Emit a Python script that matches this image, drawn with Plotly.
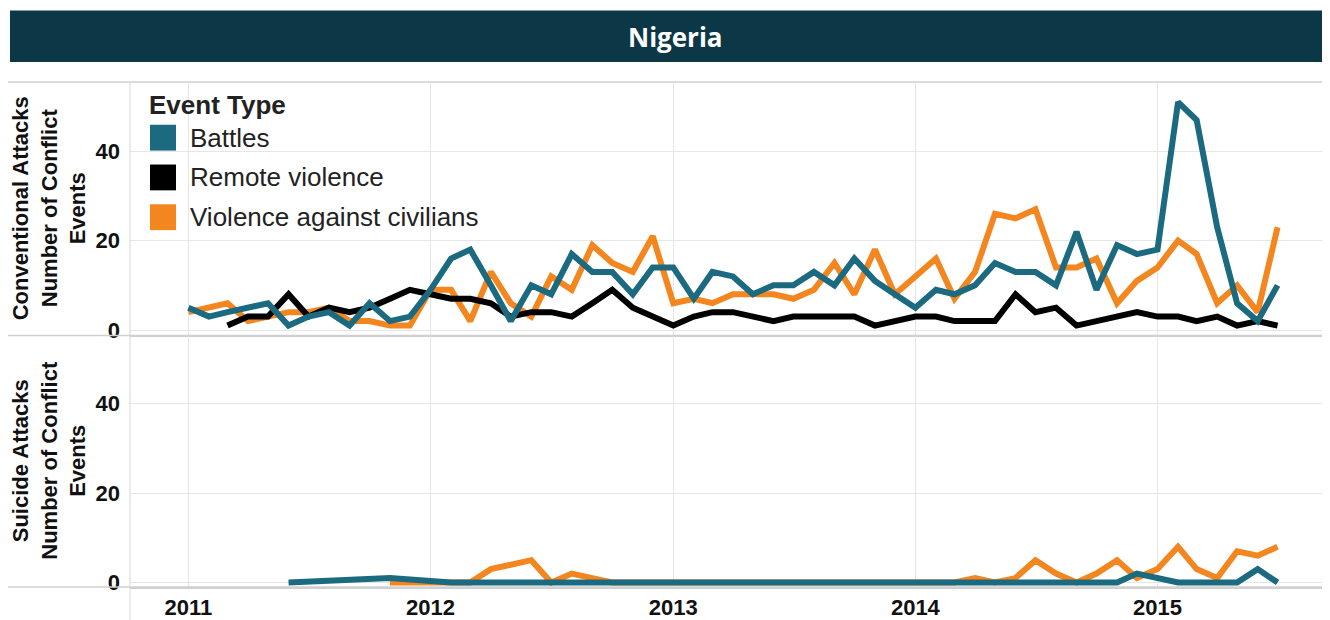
import pandas as pd
import plotly.graph_objects as go
from plotly.subplots import make_subplots

# Data -----------------------------------------------------------------------
months = pd.date_range("2011-01-01", periods=55, freq="MS")

event_types = ["Battles", "Remote violence", "Violence against civilians"]
colors = {"Battles": "#1b6a80", "Remote violence": "#000000",
          "Violence against civilians": "#f4861f"}

# conventional attacks, monthly counts (Jan 2011 - Jul 2015)
conv_battles = [5, 3, 4, 5, 6, 1, 3, 4, 1, 6,
                2, 3, 9, 16, 18, 10, 2, 10, 8, 17,
                13, 13, 8, 14, 14, 7, 13, 12, 8, 10,
                10, 13, 10, 16, 11, 8, 5, 9, 8, 10,
                15, 13, 13, 10, 22, 9, 19, 17, 18, 51,
                47, 23, 6, 2, 10]
conv_remote = [None, None, 1, 3, 3, 8, 3, 5, 4, 5,
               7, 9, 8, 7, 7, 6, 3, 4, 4, 3,
               6, 9, 5, 3, 1, 3, 4, 4, 3, 2,
               3, 3, 3, 3, 1, 2, 3, 3, 2, 2,
               2, 8, 4, 5, 1, 2, 3, 4, 3, 3,
               2, 3, 1, 2, 1]
conv_civilians = [4, 5, 6, 2, 3, 4, 4, 5, 2, 2,
                  1, 1, 9, 9, 2, 13, 6, 3, 12, 9,
                  19, 15, 13, 21, 6, 7, 6, 8, 8, 8,
                  7, 9, 15, 8, 18, 8, 12, 16, 7, 13,
                  26, 25, 27, 14, 14, 16, 6, 11, 14, 20,
                  17, 6, 10, 4, 23]

# suicide attacks
sui_battles = [None, None, None, None, None, 0, None, None, None, None,
               1, None, None, 0, 0, 0, 0, 0, 0, 0,
               0, 0, 0, 0, 0, 0, 0, 0, 0, 0,
               0, 0, 0, 0, 0, 0, 0, 0, 0, 0,
               0, 0, 0, 0, 0, 0, 0, 2, 1, 0,
               0, 0, 0, 3, 0]
sui_civilians = [None, None, None, None, None, None, None, None, None, None,
                 0, 0, 0, 0, 0, 3, 4, 5, 0, 2,
                 1, 0, 0, 0, 0, 0, 0, 0, 0, 0,
                 0, 0, 0, 0, 0, 0, 0, 0, 0, 1,
                 0, 1, 5, 2, 0, 2, 5, 1, 3, 8,
                 3, 1, 7, 6, 8]

panel_titles = ["Conventional Attacks<br>Number of Conflict<br>Events",
                "Suicide Attacks<br>Number of Conflict<br>Events"]
y_ticks = [0, 20, 40]

# Layout geometry ------------------------------------------------------------
# page body has an 8px margin, so work in page pixels and shift by OFF
OFF = 8
W, H = 1330 - 2 * OFF, 620 - OFF
PLOT_L, PLOT_T, PLOT_B = 130, 82, 590          # page pixels
L, T = PLOT_L - OFF, PLOT_T - OFF
B = H - (PLOT_B - OFF)
R = 0
PW, PH = W - L - R, H - T - B


def px2x(px):
    return (px - OFF - L) / PW


def px2y(py):
    return (PLOT_B - py) / PH


FONT = "Liberation Sans, Arial, sans-serif"

fig = make_subplots(rows=2, cols=1, shared_xaxes=True, vertical_spacing=0)

panels = [
    (1, {"Violence against civilians": conv_civilians,
         "Remote violence": conv_remote,
         "Battles": conv_battles}),
    (2, {"Violence against civilians": sui_civilians,
         "Battles": sui_battles}),
]
for row, series in panels:
    for name, vals in series.items():
        fig.add_trace(go.Scatter(
            x=months, y=vals, mode="lines", name=name,
            line=dict(color=colors[name], width=6),
            connectgaps=True, showlegend=False,
        ), row=row, col=1)

axis_font = dict(family=FONT, size=22, color="#111111", weight="bold")
for row in (1, 2):
    fig.update_yaxes(
        row=row, col=1, range=[-1, 55.5], tickvals=y_ticks,
        showgrid=True, gridcolor="#e6e6e6", gridwidth=1, zeroline=False,
        tickfont=axis_font, ticklabelstandoff=9,
        title=dict(text=panel_titles[row - 1], standoff=5,
                   font=dict(family=FONT, size=22, color="#111111", weight="bold")),
    )
    fig.update_xaxes(
        row=row, col=1, range=["2010-10-05", "2015-09-06"],
        dtick="M12", tick0="2011-01-01", tickformat="%Y",
        showgrid=True, gridcolor="#e6e6e6", gridwidth=1, zeroline=False,
        showline=True, linecolor="#cfcfcf", linewidth=1.5,
        tickfont=axis_font,
    )
fig.update_xaxes(row=1, col=1, showticklabels=False)

# Frame lines, title bar ------------------------------------------------------
shapes = [
    dict(type="rect", xref="paper", yref="paper",
         x0=px2x(10), x1=px2x(1340), y0=px2y(62), y1=px2y(10),
         fillcolor="#0b3747", line=dict(width=0), layer="below"),
    dict(type="line", xref="paper", yref="paper",
         x0=px2x(130), x1=px2x(130), y0=px2y(630), y1=px2y(82),
         line=dict(color="#d8d8d8", width=1)),
]
for py in (82, 337, 590):
    shapes.append(dict(type="line", xref="paper", yref="paper",
                       x0=px2x(8), x1=px2x(1340), y0=px2y(py), y1=px2y(py),
                       line=dict(color="#d0d0d0", width=1.5)))

annotations = [
    dict(text="<b>Nigeria</b>", xref="paper", yref="paper",
         x=px2x(675), y=px2y(37), xanchor="center", yanchor="middle",
         showarrow=False,
         font=dict(family="Open Sans, sans-serif", size=26, color="white")),
    dict(text="<b>Event Type</b>", xref="paper", yref="paper",
         x=px2x(147), y=px2y(105), xanchor="left", yanchor="middle",
         showarrow=False, font=dict(family=FONT, size=26, color="#222222")),
]

# Legend drawn by hand to get large square swatches
for name, cy in zip(event_types, (138, 178, 218)):
    shapes.append(dict(type="rect", xref="paper", yref="paper",
                       x0=px2x(150), x1=px2x(176), y0=px2y(cy + 13), y1=px2y(cy - 13),
                       fillcolor=colors[name], line=dict(width=0)))
    annotations.append(dict(text=name, xref="paper", yref="paper",
                            x=px2x(188), y=px2y(cy), xanchor="left", yanchor="middle",
                            showarrow=False,
                            font=dict(family=FONT, size=26, color="#222222")))

fig.update_layout(
    width=W, height=H,
    margin=dict(l=L, r=R, t=T, b=B),
    paper_bgcolor="white", plot_bgcolor="white",
    shapes=shapes, annotations=annotations,
    showlegend=False,
)

fig.write_html("out.html")
